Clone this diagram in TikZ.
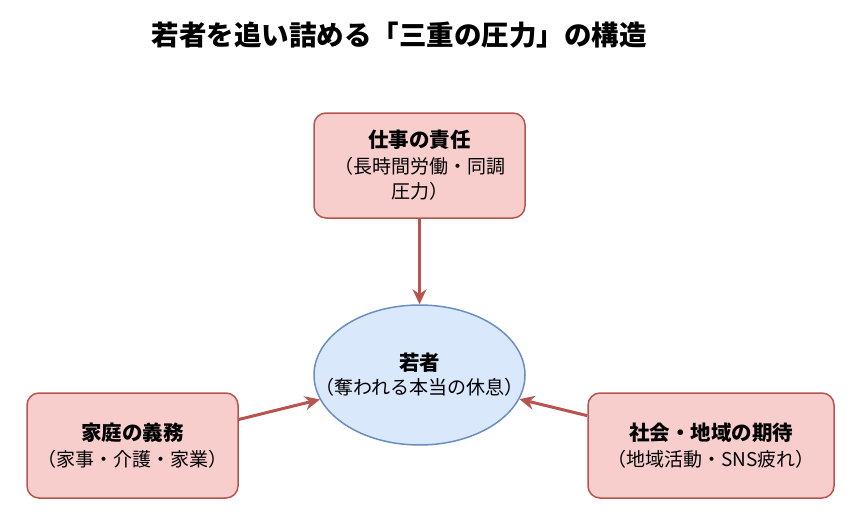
\documentclass[tikz,border=0pt]{standalone}
\usepackage{fontspec}
\setmainfont{Noto Sans CJK JP}
\usepackage{tikz}
\usetikzlibrary{shapes.geometric}
\usetikzlibrary{arrows.meta}

\definecolor{burdenfill}{HTML}{F8CECC}
\definecolor{burdenline}{HTML}{B85450}
\definecolor{youthfill}{HTML}{DAE8FC}
\definecolor{youthline}{HTML}{6C8EBF}

\newcommand{\headline}[1]{{\fontsize{20.5}{25.5}\selectfont\bfseries #1}}

\begin{document}
\begin{tikzpicture}[x=1pt,y=-1pt,
	burden/.style={draw=burdenline, fill=burdenfill, line width=1.5pt, rounded corners=12pt,
		minimum height=105pt, inner sep=0pt, align=center, font=\fontsize{19}{25.5}\selectfont},
	youth/.style={ellipse, draw=youthline, fill=youthfill, line width=1.5pt,
		minimum width=211pt, minimum height=140pt, inner sep=0pt},
	press/.style={draw=burdenline, line width=3pt, -{Stealth[length=15pt,width=14pt]}}]
		\useasboundingbox (0,0) rectangle (858,516);
		% title
		\node[font=\fontsize{27.5}{30}\selectfont\bfseries] (title) at (399,35) {若者を追い詰める「三重の圧力」の構造};
		% centre
		\node[youth, label={[align=center, font=\fontsize{19}{24}\selectfont]center:\headline{若者}\\（奪われる本当の休息）}] (youth) at (419.5,375) {};
		% pressures
		\node[burden, minimum width=211pt] (work) at (419.5,165.5) {\headline{仕事の責任}\\（長時間労働・同調\\圧力）};
		\node[burden, minimum width=211pt] (family) at (132.5,445.5) {\headline{家庭の義務}\\（家事・介護・家業）};
		\node[burden, minimum width=246pt] (society) at (711,445.5) {\headline{社会・地域の期待}\\（地域活動・SNS疲れ）};
		% arrows
		\draw[press] (work) -- (youth);
		\draw[press] (family) -- (youth);
		\draw[press] (society) -- (youth);
	\end{tikzpicture}
\end{document}
